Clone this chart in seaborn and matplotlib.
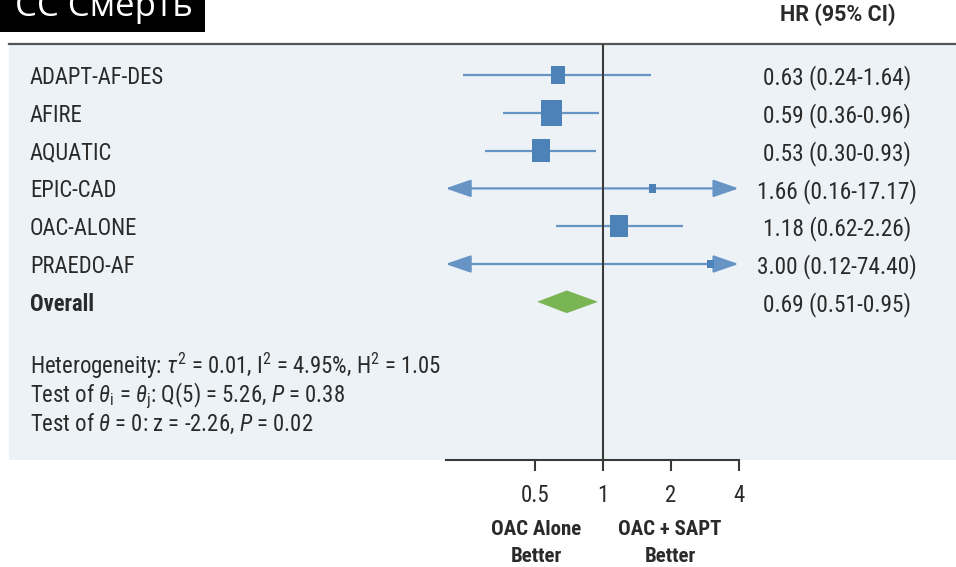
import numpy as np
import matplotlib
matplotlib.use("Agg")
import matplotlib.pyplot as plt
import matplotlib.transforms as mtransforms
from matplotlib.patches import Polygon, Rectangle
from matplotlib.ticker import NullLocator
import seaborn as sns
import pandas as pd

# ---------------- data ----------------
studies = ["ADAPT-AF-DES", "AFIRE", "AQUATIC", "EPIC-CAD", "OAC-ALONE", "PRAEDO-AF"]
hr = [0.63, 0.59, 0.53, 1.66, 1.18, 3.00]
ci_low = [0.24, 0.36, 0.30, 0.16, 0.62, 0.12]
ci_high = [1.64, 0.96, 0.93, 17.17, 2.26, 74.40]
weights = [13, 29, 23, 4, 21, 3]          # relative study weights (square area)
overall_label = "Overall"
overall_hr = 0.69
overall_low = 0.51
overall_high = 0.95
x_ticks = [0.5, 1, 2, 4]
x_tick_labels = ["0.5", "1", "2", "4"]
axis_range = (0.2, 4)
header_hr = "HR (95% CI)"
left_note = "OAC Alone\nBetter"
right_note = "OAC + SAPT\nBetter"
overlay_text = "СС Смерть"
stats_lines = [
    r"Heterogeneity: $\tau^2$ = 0.01, $\mathrm{I}^2$ = 4.95%, $\mathrm{H}^2$ = 1.05",
    r"Test of $\theta_\mathrm{i}$ = $\theta_\mathrm{j}$: Q(5) = 5.26, $P$ = 0.38",
    r"Test of $\theta$ = 0: z = -2.26, $P$ = 0.02",
]

# ---------------- style ----------------
sns.set_theme(style="white")
FONT = ["Roboto Condensed", "Roboto", "DejaVu Sans"]
plt.rcParams["font.family"] = FONT
plt.rcParams["mathtext.fontset"] = "custom"
plt.rcParams["mathtext.rm"] = "Roboto Condensed"
plt.rcParams["mathtext.it"] = "Roboto Condensed:italic"
plt.rcParams["mathtext.bf"] = "Roboto Condensed:bold"

W, H = 956, 567
TXT = "#2a2a2a"
PANEL = "#edf2f6"
LINE_BLUE = "#6694c4"
SQ_BLUE = "#4d82b8"
GREEN = "#7ab553"
DARK = "#3a3a3a"
FS = 16.3

def fx(px):
    return px / W

def fy(py):
    return 1 - py / H

fig = plt.figure(figsize=(W / 100, H / 100), dpi=100)
fig.patch.set_facecolor("white")

ax = fig.add_axes([fx(9), fy(460), fx(956) - fx(9), fy(44) - fy(460)])
ax.set_facecolor(PANEL)
ax.set_xscale("log")
one_px, dbl_px = 603, 67.8
ax.set_xlim(2 ** ((9 - one_px) / dbl_px), 2 ** ((956 - one_px) / dbl_px))
row_px = 37.8
ax.set_ylim((460 - 75) / row_px, -(75 - 44) / row_px)

rows = np.arange(len(studies))
df = pd.DataFrame({"study": studies, "hr": hr, "lo": ci_low, "hi": ci_high,
                   "w": weights, "row": rows})

# reference line at 1
ax.axvline(1, color=DARK, lw=1.5, zorder=3)

# CI lines with arrows when beyond axis range
arrow_style = "-|>,head_length=1.3,head_width=0.45"
for _, r in df.iterrows():
    lo_c = max(r.lo, axis_range[0])
    hi_c = min(r.hi, axis_range[1])
    if r.lo < axis_range[0]:
        ax.annotate("", xy=(lo_c, r.row), xytext=(r.hr, r.row),
                    arrowprops=dict(arrowstyle=arrow_style, color=LINE_BLUE,
                                    lw=1.6, shrinkA=0, shrinkB=0), zorder=2)
    else:
        ax.plot([lo_c, r.hr], [r.row, r.row], color=LINE_BLUE, lw=1.6, zorder=2,
                solid_capstyle="butt")
    if r.hi > axis_range[1]:
        ax.annotate("", xy=(hi_c, r.row), xytext=(r.hr, r.row),
                    arrowprops=dict(arrowstyle=arrow_style, color=LINE_BLUE,
                                    lw=1.6, shrinkA=0, shrinkB=0), zorder=2)
    else:
        ax.plot([r.hr, hi_c], [r.row, r.row], color=LINE_BLUE, lw=1.6, zorder=2,
                solid_capstyle="butt")

# weighted squares
rect_marker = [(-0.4, -0.5), (0.4, -0.5), (0.4, 0.5), (-0.4, 0.5), (-0.4, -0.5)]
heights_pt = 4.83 * np.sqrt(df["w"].to_numpy()) * 0.72
sns.scatterplot(data=df, x="hr", y="row", marker=rect_marker, s=heights_pt ** 2,
                color=SQ_BLUE, edgecolor="none", linewidth=0, ax=ax, zorder=4,
                legend=False)

# overall diamond
orow = len(studies)
dh = 0.30
diamond = Polygon([(overall_low, orow), (overall_hr, orow - dh),
                   (overall_high, orow), (overall_hr, orow + dh)],
                  closed=True, facecolor=GREEN, edgecolor="none", zorder=4)
ax.add_patch(diamond)

# axes styling
for s in ["left", "right"]:
    ax.spines[s].set_visible(False)
ax.spines["top"].set_color("#555555")
ax.spines["top"].set_linewidth(1.6)
ax.spines["bottom"].set_color(DARK)
ax.spines["bottom"].set_linewidth(1.5)
ax.spines["bottom"].set_bounds(*axis_range)
ax.set_xticks(x_ticks)
ax.set_xticklabels(x_tick_labels)
ax.xaxis.set_minor_locator(NullLocator())
ax.set_yticks([])
ax.set_xlabel("")
ax.set_ylabel("")
ax.tick_params(axis="x", direction="out", length=8, width=1.5, color=DARK,
               labelsize=16.5, labelcolor=TXT, pad=9, bottom=True)

# study labels and HR text
trans = mtransforms.blended_transform_factory(fig.transFigure, ax.transData)
for _, r in df.iterrows():
    ax.text(fx(30), r.row, r.study, transform=trans, fontsize=FS, color=TXT,
            va="center_baseline", ha="left")
    ax.text(fx(837), r.row, f"{r.hr:.2f} ({r.lo:.2f}-{r.hi:.2f})", transform=trans,
            fontsize=16.8, color=TXT, va="center_baseline", ha="center")
ax.text(fx(30), orow, overall_label, transform=trans, fontsize=FS, color=TXT,
        fontweight="bold", va="center_baseline", ha="left")
ax.text(fx(837), orow, f"{overall_hr:.2f} ({overall_low:.2f}-{overall_high:.2f})",
        transform=trans, fontsize=16.8, color=TXT, va="center_baseline", ha="center")

# stats lines
for i, line in enumerate(stats_lines):
    fig.text(fx(30), fy(374 + 28.5 * i), line, fontsize=16.4, color=TXT,
             va="baseline", ha="left")

# header
fig.text(fx(838), fy(15), header_hr, fontsize=15.5, fontweight="bold", color=TXT,
         family=["Roboto", "DejaVu Sans"], va="center", ha="center")

# bottom notes
fig.text(fx(536), fy(543), left_note, fontsize=15, fontweight="bold", color=TXT,
         va="center", ha="center", linespacing=1.55)
fig.text(fx(670), fy(543), right_note, fontsize=15, fontweight="bold", color=TXT,
         va="center", ha="center", linespacing=1.55)

# black overlay box
fig.patches.append(Rectangle((0, fy(32)), fx(205), 1 - fy(32),
                             transform=fig.transFigure, facecolor="black",
                             edgecolor="none", zorder=10))
fig.text(fx(15), fy(16), overlay_text, fontsize=25, color="white",
         family=["Open Sans", "DejaVu Sans"], va="baseline", ha="left", zorder=11)

fig.savefig("out.png", dpi=100)
